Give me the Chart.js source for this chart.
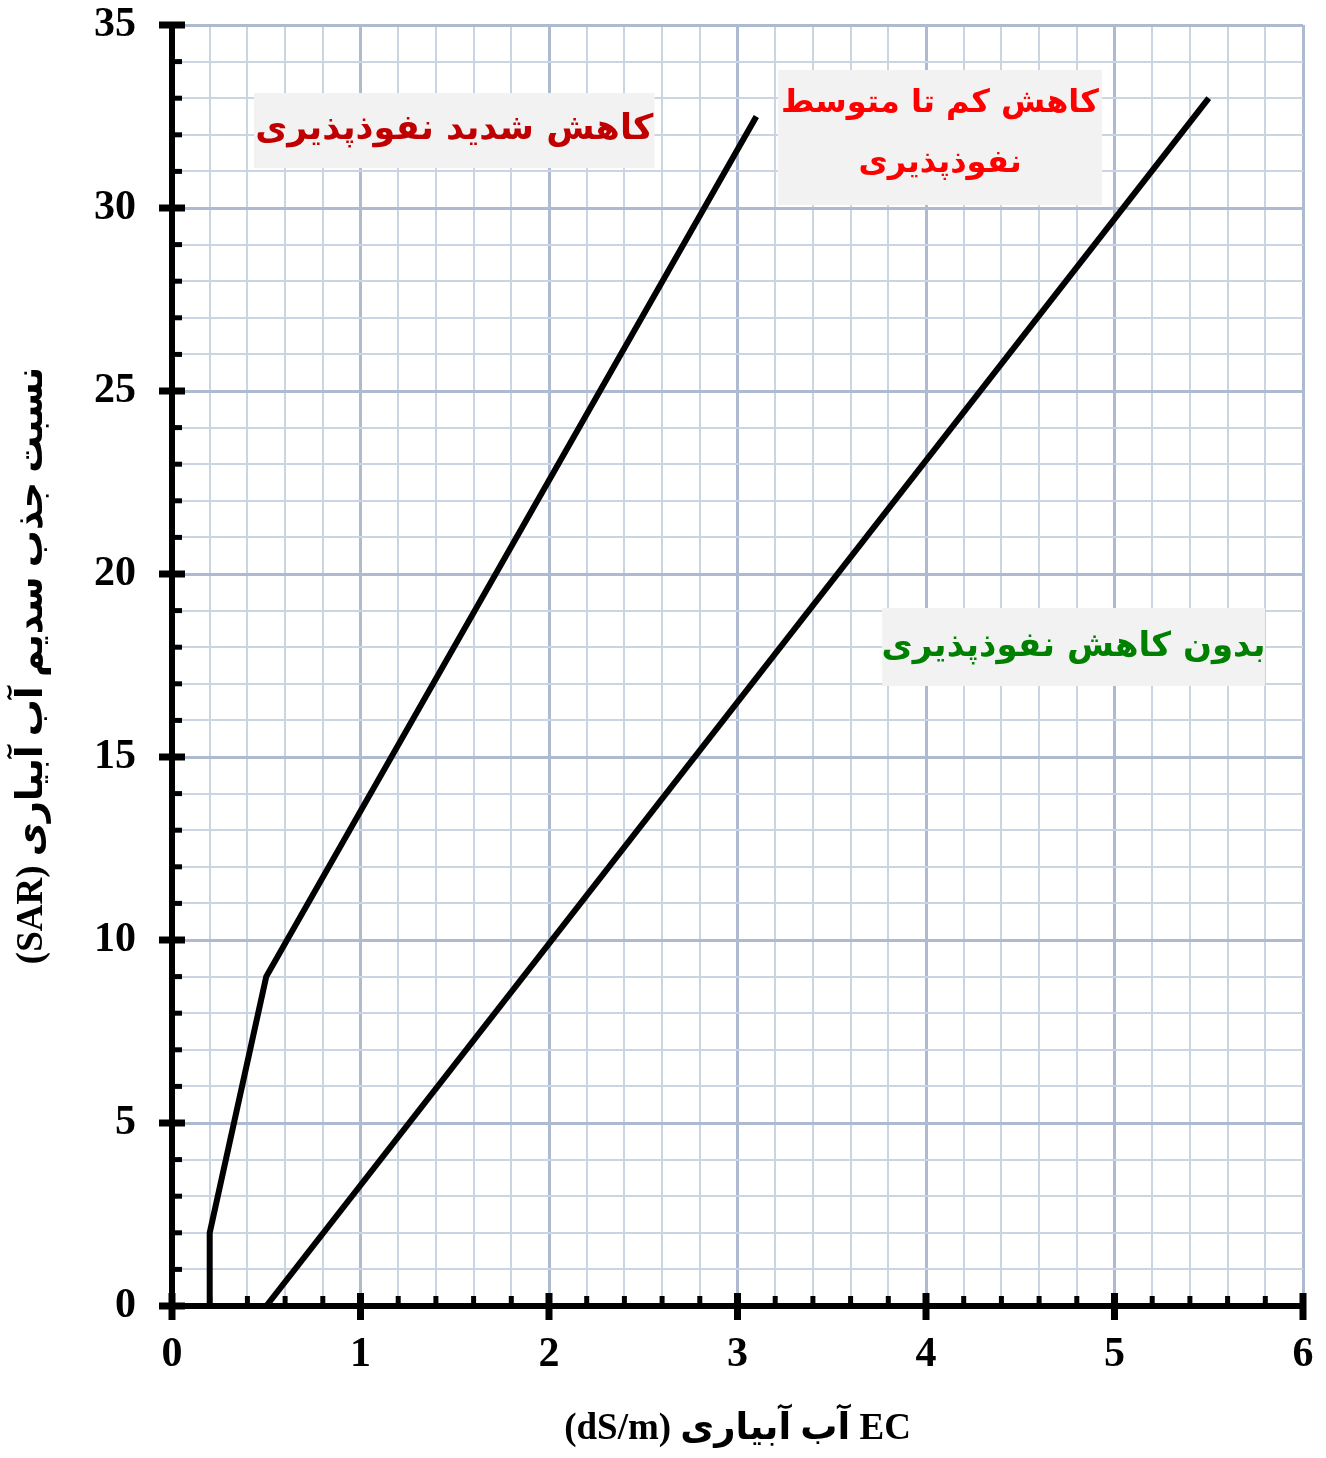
<!DOCTYPE html>
<html lang="fa">
<head>
<meta charset="utf-8">
<script src="https://cdn.jsdelivr.net/npm/chart.js@4.4.1/dist/chart.umd.min.js"></script>
<style>
  html, body { margin: 0; padding: 0; background: #ffffff; }
  canvas { display: block; }
</style>
</head>
<body>
<canvas id="c" width="1326" height="1458" dir="rtl"></canvas>
<script>
// Tick labels (major ticks only)
const xTickLabels = ['0', '1', '2', '3', '4', '5', '6'];
const yTickLabels = ['0', '5', '10', '15', '20', '25', '30', '35'];

// Boundary: severe reduction in infiltration (left of this line)
const severeEC  = [0.2, 0.2, 0.5, 3.1];
const severeSAR = [0, 2, 9, 32.5];

// Boundary: no reduction in infiltration (right of this line)
const noneEC  = [0.5, 5.5];
const noneSAR = [0, 33];

// Zone names
const zoneSevere   = ['کاهش شدید نفوذپذیری'];
const zoneModerate = ['کاهش کم تا متوسط', 'نفوذپذیری'];
const zoneNone     = ['بدون کاهش نفوذپذیری'];

const xTitle = 'EC آب آبیاری (dS/m)';
const yTitle = 'نسبت جذب سدیم آب آبیاری (SAR)';

const toPoints = (xs, ys) => xs.map((v, i) => ({ x: v, y: ys[i] }));
const isWhole = v => Math.abs(v - Math.round(v)) < 1e-6;

const TICK_FONT = { family: "'Liberation Serif', 'Times New Roman', serif", size: 42, weight: 'bold' };
const TITLE_FONT = { family: "'Liberation Serif', 'DejaVu Sans', serif", size: 37, weight: 'bold' };
const LABEL_FAMILY = "'DejaVu Sans', sans-serif";

// Black axis lines with crossing major ticks and inner minor ticks
const axisFrame = {
  id: 'axisFrame',
  afterDraw(chart) {
    const { ctx, chartArea: { left, right, top, bottom }, scales: { x, y } } = chart;
    ctx.save();
    ctx.strokeStyle = '#000000';
    ctx.lineCap = 'butt';
    x.ticks.forEach(t => {
      const px = x.getPixelForValue(t.value);
      const major = isWhole(t.value);
      ctx.lineWidth = major ? 7 : 5;
      ctx.beginPath();
      if (major) { ctx.moveTo(px, bottom - 13); ctx.lineTo(px, bottom + 14); }
      else { ctx.moveTo(px, bottom - 10); ctx.lineTo(px, bottom); }
      ctx.stroke();
    });
    y.ticks.forEach(t => {
      const py = y.getPixelForValue(t.value);
      const major = Math.round(t.value) % 5 === 0;
      ctx.lineWidth = major ? 7 : 5;
      ctx.beginPath();
      if (major) { ctx.moveTo(left - 13, py); ctx.lineTo(left + 13, py); }
      else { ctx.moveTo(left, py); ctx.lineTo(left + 10, py); }
      ctx.stroke();
    });
    ctx.lineWidth = 6;
    ctx.beginPath();
    ctx.moveTo(left, top);
    ctx.lineTo(left, bottom);
    ctx.moveTo(left, bottom);
    ctx.lineTo(right, bottom);
    ctx.stroke();
    ctx.restore();
  }
};

// Shaded zone captions placed in data coordinates
const zoneCaptions = {
  id: 'zoneCaptions',
  afterDatasetsDraw(chart) {
    const { ctx, scales: { x, y } } = chart;
    const boxes = [
      { x0: 0.435, x1: 2.56, y0: 31.09, y1: 33.14, lines: zoneSevere, color: '#c00000', cy: [32.13], size: 35 },
      { x0: 3.215, x1: 4.934, y0: 30.08, y1: 33.77, lines: zoneModerate, color: '#ff0000', cy: [32.85, 31.2], size: 32 },
      { x0: 3.767, x1: 5.798, y0: 16.94, y1: 19.07, lines: zoneNone, color: '#008000', cy: [18.0], size: 34 }
    ];
    ctx.save();
    ctx.direction = 'rtl';
    boxes.forEach(b => {
      const l = x.getPixelForValue(b.x0), r = x.getPixelForValue(b.x1);
      const t = y.getPixelForValue(b.y1), btm = y.getPixelForValue(b.y0);
      ctx.fillStyle = '#f2f2f2';
      ctx.fillRect(l, t, r - l, btm - t);
      ctx.fillStyle = b.color;
      ctx.font = 'bold ' + b.size + 'px ' + LABEL_FAMILY;
      ctx.textAlign = 'center';
      ctx.textBaseline = 'middle';
      b.lines.forEach((s, i) => {
        ctx.fillText(s, (l + r) / 2, y.getPixelForValue(b.cy[i]));
      });
    });
    ctx.restore();
  }
};

const gridColor = major => major ? '#adbacf' : '#cbd4e2';

new Chart(document.getElementById('c'), {
  type: 'line',
  data: {
    datasets: [
      { data: toPoints(severeEC, severeSAR), borderColor: '#000000', borderWidth: 6, pointRadius: 0, tension: 0, fill: false },
      { data: toPoints(noneEC, noneSAR), borderColor: '#000000', borderWidth: 6, pointRadius: 0, tension: 0, fill: false }
    ]
  },
  options: {
    responsive: false,
    animation: false,
    devicePixelRatio: 1,
    layout: { padding: { top: 25, right: 23, left: 0, bottom: 0 } },
    plugins: { legend: { display: false }, tooltip: { enabled: false } },
    scales: {
      x: {
        type: 'linear',
        min: 0, max: 6,
        afterFit(scale) { scale.height = 152; scale.paddingLeft = 0; scale.paddingRight = 0; },
        ticks: {
          stepSize: 0.2,
          autoSkip: false,
          maxRotation: 0,
          padding: 24,
          color: '#000000',
          font: TICK_FONT,
          callback: v => isWhole(v) ? xTickLabels[Math.round(v)] : ''
        },
        grid: {
          drawTicks: false,
          color: c => gridColor(isWhole(c.tick.value)),
          lineWidth: c => isWhole(c.tick.value) ? 3 : 2
        },
        border: { display: false },
        title: { display: true, text: xTitle, color: '#000000', font: TITLE_FONT, padding: { top: 0, bottom: 6 } }
      },
      y: {
        type: 'linear',
        min: 0, max: 35,
        afterFit(scale) { scale.width = 172; scale.paddingTop = 0; scale.paddingBottom = 0; },
        ticks: {
          stepSize: 1,
          autoSkip: false,
          padding: 36,
          color: '#000000',
          font: TICK_FONT,
          callback: v => Math.round(v) % 5 === 0 ? yTickLabels[Math.round(v) / 5] : ''
        },
        grid: {
          drawTicks: false,
          color: c => gridColor(Math.round(c.tick.value) % 5 === 0),
          lineWidth: c => Math.round(c.tick.value) % 5 === 0 ? 3 : 2
        },
        border: { display: false },
        title: { display: true, text: yTitle, color: '#000000', font: TITLE_FONT, padding: { top: 10, bottom: 0 } }
      }
    }
  },
  plugins: [zoneCaptions, axisFrame]
});
</script>
</body>
</html>
